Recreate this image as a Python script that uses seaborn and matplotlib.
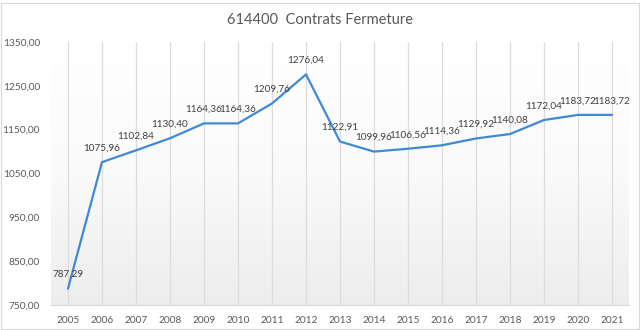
import numpy as np
import pandas as pd
import matplotlib
matplotlib.use("Agg")
import matplotlib.pyplot as plt
import seaborn as sns
from matplotlib.patches import Rectangle
from matplotlib.colors import LinearSegmentedColormap

years = [2005, 2006, 2007, 2008, 2009, 2010, 2011, 2012, 2013, 2014, 2015, 2016, 2017, 2018, 2019, 2020, 2021]
values = [787.29, 1075.96, 1102.84, 1130.40, 1164.36, 1164.36, 1209.76, 1276.04, 1122.91, 1099.96,
          1106.56, 1114.36, 1129.92, 1140.08, 1172.04, 1183.72, 1183.72]
yticks = [750, 850, 950, 1050, 1150, 1250, 1350]
title = "614400  Contrats Fermeture"

sns.set_theme(style="white")
plt.rcParams['font.family'] = ['Lato', 'DejaVu Sans']

df = pd.DataFrame({"year": years, "value": values})

fig = plt.figure(figsize=(6.4, 3.3), dpi=100)
ax = fig.add_axes([51/640, 1-305/330, 578/640, 263/330])

# gradient background
grad = np.linspace(0, 1, 256).reshape(-1, 1)
cmap = LinearSegmentedColormap.from_list("g", ["#ffffff", "#fafafa", "#ededed"])
ax.imshow(grad, extent=[0, 1, 0, 1], transform=ax.transAxes, cmap=cmap,
          aspect='auto', zorder=0, origin='upper')

for y in years:
    ax.axvline(y, color="#dcdcdc", lw=0.9, zorder=1)

sns.lineplot(data=df, x="year", y="value", ax=ax, color="#3e8ad6", lw=1.6, zorder=3)

for x, v in zip(years, values):
    ax.annotate(f"{v:.2f}".replace('.', ','), (x, v), xytext=(0, 14), textcoords='offset pixels',
                ha='center', va='center', fontsize=7.2, color="#404040", zorder=4)

ax.set_xlim(2004.5, 2021.5)
ax.set_ylim(750, 1350)
ax.set_xticks(years)
ax.set_xticklabels([str(y) for y in years], fontsize=7.3, color="#595959")
ax.set_yticks(yticks)
ax.set_yticklabels([f"{t:.2f}".replace('.', ',') for t in yticks], fontsize=7.3, color="#595959")
ax.tick_params(axis='both', length=0)
ax.tick_params(axis='x', pad=8)
ax.tick_params(axis='y', pad=8)
ax.set_xlabel("")
ax.set_ylabel("")
for s in ['top', 'right', 'left']:
    ax.spines[s].set_visible(False)
ax.spines['bottom'].set_color("#d9d9d9")
ax.spines['bottom'].set_linewidth(0.8)

fig.text(0.5, 1-20/330, title, ha='center', va='center', fontsize=10.5, color="#595959")
fig.patches.append(Rectangle((0.002, 0.002), 0.996, 0.99, transform=fig.transFigure,
                             fill=False, edgecolor="#d9d9d9", lw=0.8))

fig.savefig("out.png", dpi=100)
